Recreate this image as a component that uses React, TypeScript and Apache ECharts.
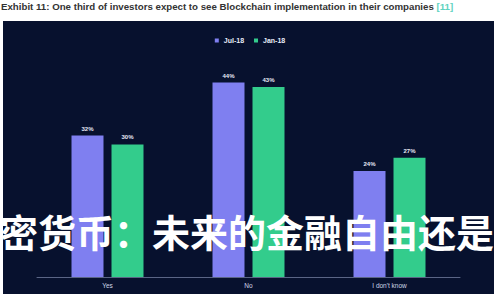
import React, { useEffect, useRef } from "react";
import * as echarts from "echarts";

const categories = ["Yes", "No", "I don't know"];
const jul18 = [32, 44, 24];
const jan18 = [30, 43, 27];
const seriesNames = ["Jul-18", "Jan-18"];
const titleText = "Exhibit 11: One third of investors expect to see Blockchain implementation in their companies ";
const titleRef = "[11]";
const overlayText = "密货币：未来的金融自由还是";

export default function App() {
  const ref = useRef<HTMLDivElement>(null);
  useEffect(() => {
    if (!ref.current) return;
    const chart = echarts.init(ref.current, null, { renderer: "svg" });
    chart.setOption({
      animation: false,
      backgroundColor: "#ffffff",
      title: {
        text: "{a|" + titleText + "}{b|" + titleRef + "}",
        left: 1,
        top: 1,
        padding: 0,
        textStyle: {
          rich: {
            a: { fontSize: 9.7, fontWeight: "bold", color: "#333333", fontFamily: "Liberation Sans" },
            b: { fontSize: 9.7, color: "#5fd3c0", fontFamily: "Liberation Sans" },
          },
        },
      },
      graphic: [
        {
          type: "rect",
          z: -10,
          zlevel: 0,
          shape: { x: 3, y: 21, width: 491, height: 273 },
          style: { fill: "#07112e" },
          silent: true,
        },
        {
          type: "text",
          z: 100,
          left: 0,
          top: 211,
          style: {
            text: overlayText,
            fill: "#ffffff",
            font: "bold 38px 'Noto Sans CJK SC'",
          },
          silent: true,
        },
      ],
      legend: {
        data: seriesNames,
        top: 32,
        left: "center",
        itemWidth: 4,
        itemHeight: 4,
        itemGap: 10,
        icon: "rect",
        textStyle: { color: "#e8ecf8", fontSize: 7, fontWeight: "bold", fontFamily: "Liberation Sans" },
      },
      grid: { left: 37, right: 40, top: 56, bottom: 23 },
      xAxis: {
        type: "category",
        data: categories,
        axisLine: { lineStyle: { color: "#5a6585", width: 1 } },
        axisTick: { show: false },
        axisLabel: { color: "#d0d6e6", fontSize: 6.5, margin: 5, fontFamily: "Liberation Sans" },
      },
      yAxis: {
        type: "value",
        min: 0,
        max: 50,
        show: false,
        splitLine: { show: false },
      },
      series: [
        {
          name: seriesNames[0],
          type: "bar",
          data: jul18,
          barWidth: 32,
          barGap: "25%",
          itemStyle: { color: "#7f7ff0" },
          label: { show: true, position: "top", formatter: "{c}%", color: "#e6e9f5", fontSize: 6, fontWeight: "bold", distance: 4 },
        },
        {
          name: seriesNames[1],
          type: "bar",
          data: jan18,
          barWidth: 32,
          itemStyle: { color: "#33cc8c" },
          label: { show: true, position: "top", formatter: "{c}%", color: "#e6e9f5", fontSize: 6, fontWeight: "bold", distance: 4 },
        },
      ],
    });
    return () => chart.dispose();
  }, []);
  return <div ref={ref} style={{ width: 500, height: 300, position: "absolute", left: 0, top: 0 }} />;
}
